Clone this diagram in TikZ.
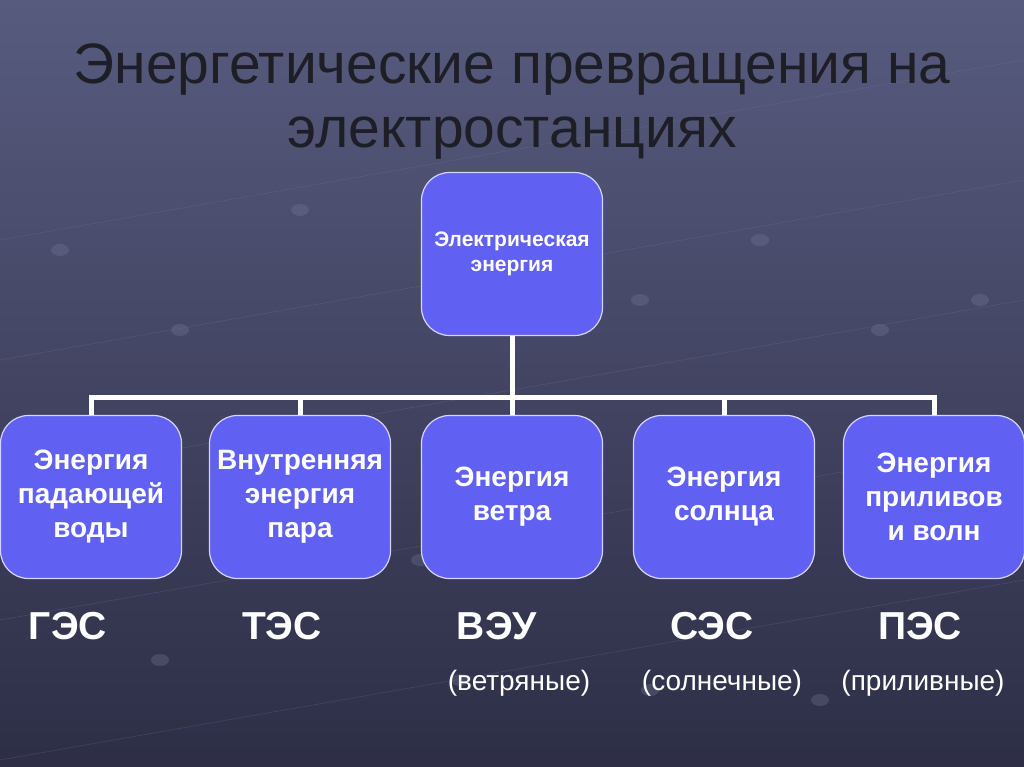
\documentclass[tikz,border=0pt]{standalone}
\usepackage{fontspec}
\setmainfont{Liberation Sans}
\usetikzlibrary{positioning}
\definecolor{bgtop}{HTML}{575B7E}
\definecolor{bgbot}{HTML}{2D2E46}
\definecolor{boxfill}{HTML}{6060F2}
\definecolor{boxline}{HTML}{D4D4FF}
\definecolor{titleink}{HTML}{1E1E26}
\definecolor{faint}{HTML}{7A7EA0}

\begin{document}
\begin{tikzpicture}[x=1pt,y=-1pt,
  titletext/.style={text=titleink,font=\fontsize{57}{65}\selectfont,anchor=base},
  energybox/.style={draw=boxline,line width=1.2pt,fill=boxfill,rounded corners=28pt,
    minimum width=181pt,minimum height=163pt,inner sep=0pt,align=center,text=white,
    font=\bfseries\fontsize{28}{34}\selectfont},
  stationlabel/.style={text=white,font=\bfseries\fontsize{39}{42}\selectfont},
  typelabel/.style={text=white,font=\fontsize{28}{30}\selectfont},
  link/.style={draw=white,line width=5pt}]
  \useasboundingbox (0,0) rectangle (1024,767);
  \shade[top color=bgtop,bottom color=bgbot] (0,0) rectangle (1024,767);
  % faint background grid
  \foreach \y in {180,300,420,560,700}{
    \draw[faint,opacity=0.25,line width=0.6pt] (0,\y+60) -- (1024,\y-120);}
  \foreach \x/\y in {60/250,180/330,300/210,640/300,760/240,880/330,980/300,
                     160/660,460/680,650/690,820/700,30/560,420/560,960/570}{
    \fill[faint,opacity=0.3] (\x,\y) ellipse (9 and 6);}

  \node[titletext] (title1) at (512,84) {Энергетические превращения на};
  \node[titletext] (title2) at (512,148) {электростанциях};

  \node[energybox,font=\bfseries\fontsize{21}{25}\selectfont] (elec) at (512,254)
    {Электрическая\\энергия};

  \node[energybox] (water) at (91,497) {Энергия\\падающей\\воды};
  \node[energybox] (steam) at (300,497) {Внутренняя\\энергия\\пара};
  \node[energybox] (wind) at (512,497) {Энергия\\ветра};
  \node[energybox] (sun) at (724,497) {Энергия\\солнца};
  \node[energybox] (tide) at (934,497) {Энергия\\приливов\\и волн};

  \coordinate (hub) at (512,397);
  \draw[link] (elec) -- (hub);
  \draw[link] (water.north) |- (hub) -| (tide.north);
  \foreach \n in {steam,wind,sun}
    \draw[link] (\n.north) -- (\n.north |- hub);

  \foreach \x/\n/\t in {68/ges/ГЭС,282/tes/ТЭС,497/veu/ВЭУ,712/ses/СЭС,920/pes/ПЭС}
    \node[stationlabel] (\n) at (\x,626) {\t};

  \node[typelabel] (windtype) at (519,683) {(ветряные)};
  \node[typelabel] (suntype) at (722,683) {(солнечные)};
  \node[typelabel] (tidetype) at (923,683) {(приливные)};
\end{tikzpicture}
\end{document}
